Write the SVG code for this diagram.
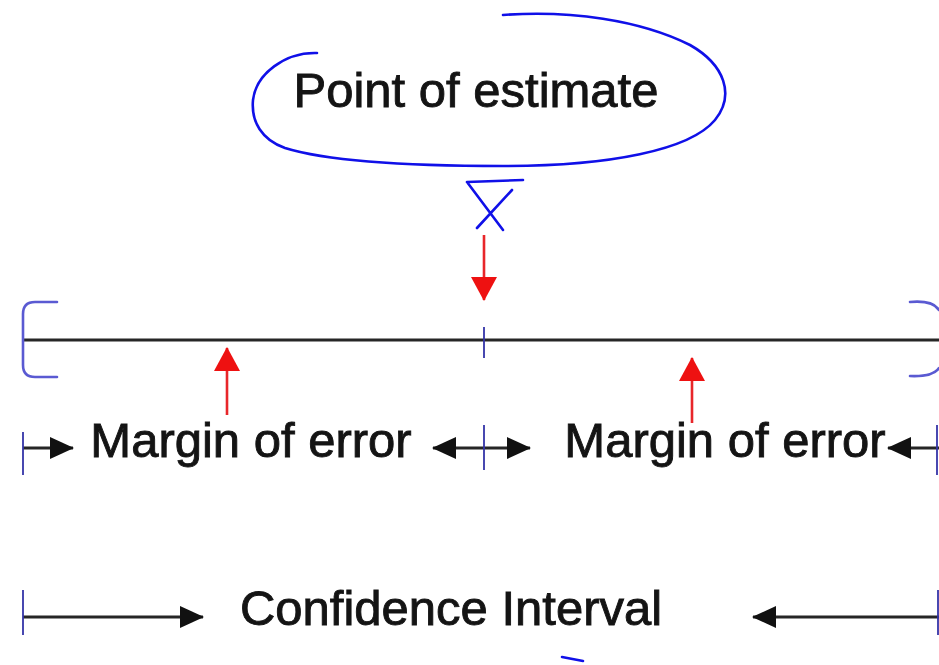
<svg xmlns="http://www.w3.org/2000/svg" width="939" height="665" viewBox="0 0 939 665">
<style>
.lbl{font-family:"Liberation Sans",Arial,sans-serif;font-size:49px;fill:#141414;stroke:#141414;stroke-width:0.9;text-anchor:middle}
.ink{fill:none;stroke:#1010e8;stroke-width:2.6;stroke-linecap:round}
.brk{fill:none;stroke:#5a5ad2;stroke-width:2.6;stroke-linecap:round}
.tick{stroke:#3434a8;stroke-width:1.8}
.blk{stroke:#262626;stroke-width:3;fill:none}
.red{stroke:#e8262a;stroke-width:2.6;fill:none}
</style>
<defs>
<marker id="ah" viewBox="0 0 24 22" refX="23" refY="11" markerWidth="24" markerHeight="22" markerUnits="userSpaceOnUse" orient="auto-start-reverse">
<path d="M0,0 L24,11 L0,22 z" fill="#111"/>
</marker>
<marker id="ahr" viewBox="0 0 24 26" refX="23" refY="13" markerWidth="24" markerHeight="26" markerUnits="userSpaceOnUse" orient="auto">
<path d="M0,0 L24,13 L0,26 z" fill="#ee1111"/>
</marker>
</defs>
<rect width="939" height="665" fill="#ffffff"/>
<g id="point-of-estimate">
<path class="ink" d="M317,53 C285,52 256,74 253,100 C251,122 262,140 285,148 C330,162 420,166 503,166 C610,166 690,150 715,120 C735,95 725,65 690,45 C640,20 570,10 503,15"/>
<text class="lbl" x="476" y="107">Point of estimate</text>
</g>
<g id="xbar">
<path class="ink" d="M467,182 L523,180 M467,182 L503,230 M512,190 L477,228"/>
</g>
<g id="interval-line">
<line class="blk" x1="23" y1="340" x2="939" y2="340" stroke="#444"/>
<path class="brk" d="M57,302 L35,302 Q23,302 23,314 L23,365 Q23,377 35,377 L57,377"/>
<path class="brk" d="M910,302 Q933,300 939,310 M910,376 Q933,377 939,368"/>
<line class="tick" x1="484" y1="327" x2="484" y2="358"/>
</g>
<g id="margin-left">
<text class="lbl" x="251" y="457">Margin of error</text>
</g>
<g id="margin-right">
<text class="lbl" x="725" y="457">Margin of error</text>
</g>
<g id="confidence-interval">
<text class="lbl" x="451" y="625">Confidence Interval</text>
</g>
<g id="connectors">
<line class="red" x1="484" y1="235" x2="484" y2="300" marker-end="url(#ahr)"/>
<line class="red" x1="227" y1="415" x2="227" y2="348" marker-end="url(#ahr)"/>
<line class="red" x1="692" y1="423" x2="692" y2="358" marker-end="url(#ahr)"/>
<line class="blk" x1="23" y1="448" x2="73" y2="448" marker-end="url(#ah)"/>
<line class="blk" x1="433" y1="448" x2="530" y2="448" marker-start="url(#ah)" marker-end="url(#ah)"/>
<line class="blk" x1="939" y1="448" x2="888" y2="448" marker-end="url(#ah)"/>
<line class="tick" x1="23" y1="432" x2="23" y2="475"/>
<line class="tick" x1="484" y1="425" x2="484" y2="470"/>
<line class="tick" x1="937" y1="425" x2="937" y2="475"/>
<line class="blk" x1="23" y1="617" x2="203" y2="617" stroke="#3a3a3a" marker-end="url(#ah)"/>
<line class="blk" x1="939" y1="617" x2="753" y2="617" stroke="#3a3a3a" marker-end="url(#ah)"/>
<line class="tick" x1="23" y1="590" x2="23" y2="635"/>
<line class="tick" x1="938" y1="590" x2="938" y2="635" stroke="#9a9ae0"/>
<path class="ink" d="M562,657 L583,661"/>
</g>
</svg>
